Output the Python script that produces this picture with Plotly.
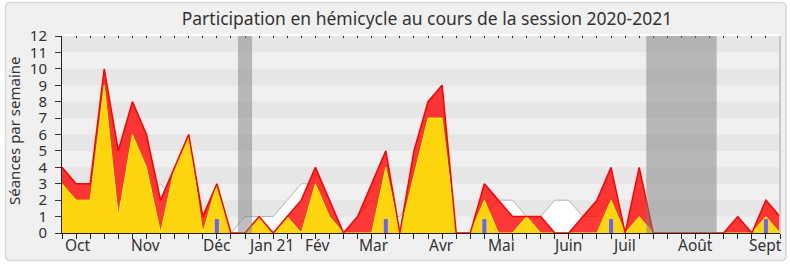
import plotly.graph_objects as go

# ---- data ----
weeks = list(range(52))
total_presence = [4, 3, 3, 10, 5, 8, 6, 2, 4, 6, 1, 3, 0, 0, 1, 0, 1, 2, 4, 2,
                  0, 1, 3, 5, 0, 5, 8, 9, 0, 0, 3, 2, 1, 1, 1, 0, 0, 1, 2, 4,
                  0, 4, 0, 0, 0, 0, 0, 0, 1, 0, 2, 1]
commission_presence = [3, 2, 2, 9, 1, 6, 4, 0, 4, 6, 0, 3, 0, 0, 1, 0, 1, 0, 3, 1,
                       0, 0, 0, 4, 0, 3.5, 7, 7, 0, 0, 2, 0, 0, 1, 0, 0, 0, 0, 0, 2,
                       0, 1, 0, 0, 0, 0, 0, 0, 0, 0, 1, 0]
median_deputes = [2, 2, 2, 2, 2, 2, 2, 3, 2, 3, 1, 1, 0, 1, 1, 1, 2, 3, 3, 2,
                  0, 1, 2, 1, 1, 2.5, 4, 2, 0, 0, 1, 2, 2, 1, 1, 2, 2, 1, 1, 2,
                  0, 0, 0, 0, 0, 0, 0, 0, 0, 0, 1, 0]
question_weeks = [11, 23, 30, 39, 50]
question_values = [0.85, 0.85, 0.85, 0.85, 0.85]
vacation_start = [12.5, 41.5]
vacation_end = [13.5, 46.5]
month_labels = ["Oct", "Nov", "Déc", "Jan 21", "Fév", "Mar", "Avr", "Mai",
                "Juin", "Juil", "Août", "Sept"]
month_pos = [1.14, 5.96, 10.98, 14.85, 18.14, 22.15, 26.95, 31.19,
             35.92, 39.92, 44.98, 50.0]
y_max = 12

FONT = "Noto Sans"
W, H = 790, 267
ML, MR, MT, MB = 62, 10, 36, 34
PW, PH = W - ML - MR, H - MT - MB


def px_x(px):
    return (px - ML) / PW


def px_y(py):
    return (H - MB - py) / PH


fig = go.Figure()

# median (white filled area with grey outline)
fig.add_trace(go.Scatter(x=weeks, y=median_deputes, mode="lines",
                         line=dict(color="#b4b4b4", width=1),
                         fill="tozeroy", fillcolor="#ffffff",
                         hoverinfo="skip", showlegend=False))
# commission presence (yellow)
fig.add_trace(go.Scatter(x=weeks, y=commission_presence, mode="lines",
                         line=dict(color="#ffff00", width=1),
                         fill="tozeroy", fillcolor="rgba(255,210,0,0.94)",
                         hoverinfo="skip", showlegend=False))
# total presence (red)
fig.add_trace(go.Scatter(x=weeks, y=total_presence, mode="lines",
                         line=dict(color="#ff0000", width=1.5),
                         fill="tonexty", fillcolor="rgba(255,0,0,0.78)",
                         hoverinfo="skip", showlegend=False))
# questions (blue bars drawn as thick segments)
bx, by = [], []
for w, v in zip(question_weeks, question_values):
    bx += [w, w, None]
    by += [0, v, None]
fig.add_trace(go.Scatter(x=bx, y=by, mode="lines",
                         line=dict(color="#6464ff", width=4),
                         hoverinfo="skip", showlegend=False))
# dummy trace to activate top axis
fig.add_trace(go.Scatter(x=weeks[:1], y=[0], xaxis="x2", mode="markers",
                         marker=dict(opacity=0), hoverinfo="skip",
                         showlegend=False))

shapes = []
# page box
x0, x1 = px_x(5.5), px_x(786)
y0, y1 = px_y(260.5), px_y(2.5)
rx, ry = 5 / PW, 5 / PH
path = (f"M {x0+rx},{y1} L {x1-rx},{y1} Q {x1},{y1} {x1},{y1-ry} "
        f"L {x1},{y0+ry} Q {x1},{y0} {x1-rx},{y0} L {x0+rx},{y0} "
        f"Q {x0},{y0} {x0},{y0+ry} L {x0},{y1-ry} Q {x0},{y1} {x0+rx},{y1} Z")
shapes.append(dict(type="path", path=path, xref="paper", yref="paper",
                   fillcolor="#f0f0f0", line=dict(color="#dadada", width=1.5),
                   layer="below"))
# horizontal stripes
for i in range(1, y_max, 2):
    shapes.append(dict(type="rect", xref="paper", yref="y", x0=0, x1=1,
                       y0=i, y1=i + 1, fillcolor="#e6e6e6", line=dict(width=0),
                       layer="below"))
# vacation bands
for s, e in zip(vacation_start, vacation_end):
    shapes.append(dict(type="rect", xref="x", yref="y", x0=s, x1=e,
                       y0=0, y1=y_max, fillcolor="rgba(128,128,128,0.5)",
                       line=dict(width=0), layer="above"))
# right frame line
shapes.append(dict(type="line", xref="paper", yref="paper", x0=1, x1=1,
                   y0=0, y1=1, line=dict(color="#c8c8c8", width=2)))

annotations = []
for lab, pos in zip(month_labels, month_pos):
    annotations.append(dict(text=lab, x=pos, xref="x", y=px_y(245), yref="paper",
                            showarrow=False, xanchor="center", yanchor="middle",
                            font=dict(family=FONT, size=15.5, color="#333")))
annotations.append(dict(text="Séances par semaine", textangle=-90,
                        x=px_x(14), xref="paper", y=px_y(131), yref="paper",
                        showarrow=False, xanchor="center", yanchor="middle",
                        font=dict(family=FONT, size=15, color="#333")))

fig.update_layout(
    width=W, height=H,
    margin=dict(l=ML, r=MR, t=MT, b=MB),
    paper_bgcolor="#ffffff", plot_bgcolor="#fafafa",
    title=dict(text="Participation en hémicycle au cours de la session 2020-2021",
               x=427 / W, xref="container", xanchor="center",
               y=1 - 19 / H, yref="container", yanchor="middle",
               font=dict(family=FONT, size=17.5, color="#333")),
    xaxis=dict(range=[0, weeks[-1]], tickvals=weeks, showticklabels=False,
               ticks="outside", ticklen=5, tickwidth=1, tickcolor="#222",
               showline=True, linecolor="#222", linewidth=1,
               showgrid=False, zeroline=False, fixedrange=True),
    xaxis2=dict(range=[0, weeks[-1]], overlaying="x", side="top",
                tickvals=weeks, showticklabels=False, ticks="inside",
                ticklen=2, tickwidth=1, tickcolor="#222",
                showline=True, linecolor="#ffffff", linewidth=2,
                showgrid=False, zeroline=False),
    yaxis=dict(range=[0, y_max], dtick=1, tick0=0, ticks="outside", ticklen=6,
               tickcolor="#333", showline=True, linecolor="#222", linewidth=1,
               showgrid=False, zeroline=False, ticklabelstandoff=5,
               tickfont=dict(family=FONT, size=15, color="#333")),
    shapes=shapes, annotations=annotations,
    font=dict(family=FONT),
)

fig.write_html("out.html")
